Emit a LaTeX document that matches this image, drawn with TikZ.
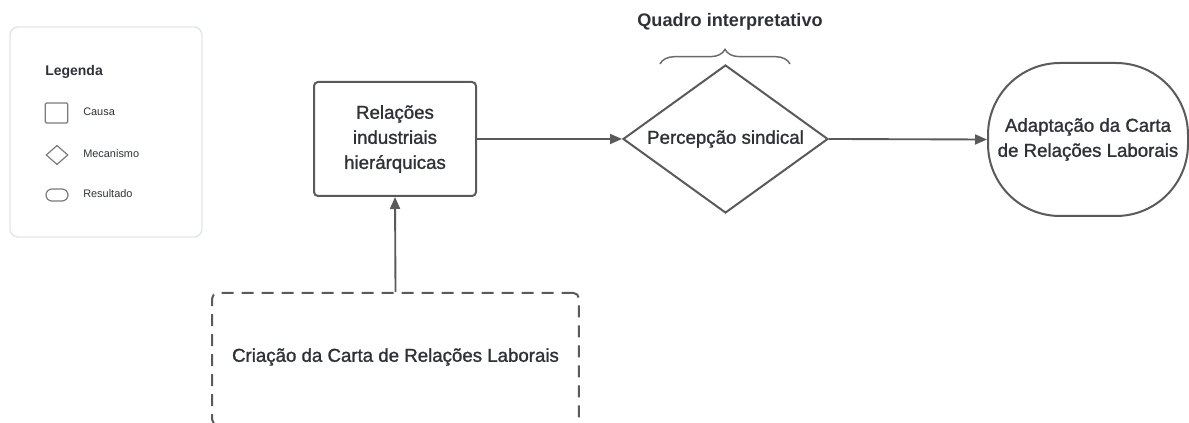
\documentclass[tikz,border=0pt]{standalone}
\usepackage{fontspec}
\setmainfont{Liberation Sans}
\newfontfamily\medfont[FakeBold=1.3]{Liberation Sans}
\usetikzlibrary{arrows.meta,shapes.geometric,decorations.pathreplacing}
\definecolor{stroke}{HTML}{5A5A5A}
\definecolor{txt}{HTML}{2E3238}
\definecolor{legline}{HTML}{E1E5EB}
\definecolor{bracec}{HTML}{6A6A6A}
\tikzset{
  px/.style={x=0.75pt,y=-0.75pt},
  main/.style={draw=stroke,line width=1.5pt,text=txt,font=\medfont\fontsize{14}{18.8}\selectfont,align=center,inner sep=0pt},
  conn/.style={draw=stroke,line width=1.4pt,-{Triangle[length=9pt,width=7.5pt]}},
  legtxt/.style={text=txt,font=\fontsize{8.2}{10}\selectfont,anchor=west,inner sep=0pt},
  legshape/.style={draw=stroke!80,line width=0.9pt,inner sep=0pt},
}
\begin{document}
\begin{tikzpicture}[px]
\useasboundingbox (0,0) rectangle (1189,423);
\clip (0,0) rectangle (1189,423);
% legend
\node[draw=legline,line width=1.1pt,rounded corners=6pt,minimum width=144pt,minimum height=157.5pt,inner sep=0pt] (legend) at (106,132) {};
\node[text=txt,font=\bfseries\fontsize{10.5}{12}\selectfont,anchor=west,inner sep=0pt] (legtitle) at (45,72) {Legenda};
\node[legshape,rounded corners=1pt,minimum width=17pt,minimum height=15pt] (lsq) at (56.5,113) {};
\node[legtxt] (lcausa) at (83,112) {Causa};
\node[legshape,diamond,minimum width=16.5pt,minimum height=14.5pt] (ldia) at (57,155) {};
\node[legtxt] (lmec) at (83,154) {Mecanismo};
\node[legshape,rounded corners=4.5pt,minimum width=16.5pt,minimum height=9pt] (lres) at (57,195) {};
\node[legtxt] (lres2) at (83,194) {Resultado};
% main shapes
\node[main,rounded corners=3pt,minimum width=121.5pt,minimum height=85.5pt] (rel) at (395,139) {Relações\\industriais\\hierárquicas};
\node[main,diamond,minimum width=153.75pt,minimum height=111pt,label={[text=txt,font=\medfont\fontsize{14}{18}\selectfont]center:Percepção sindical}] (dia) at (725.5,139) {};
\node[main,rounded corners=54pt,minimum width=150pt,minimum height=114.75pt] (res) at (1088,139.5) {Adaptação da Carta\\de Relações Laborais};
\node[main,dashed,dash pattern=on 9pt off 6pt,rounded corners=4pt,minimum width=275pt,minimum height=99pt] (cri) at (395.5,359) {};
\node[text=txt,font=\medfont\fontsize{14}{18}\selectfont,inner sep=0pt] (critxt) at (395.5,357) {Criação da Carta de Relações Laborais};
% connectors
\draw[conn] (rel.east) -- (dia.west);
\draw[conn] (dia.east) -- (res.west);
\draw[conn] (cri.north) -- (rel.south);
% brace
\coordinate (bl) at (660,64);
\coordinate (br) at (790,64);
\draw[draw=bracec,line width=1.1pt,decorate,decoration={brace,amplitude=11pt}] (bl) -- (br);
\node[text=txt,font=\bfseries\fontsize{13.6}{15}\selectfont,inner sep=0pt] (quadro) at (730,22) {Quadro interpretativo};
\end{tikzpicture}
\end{document}
